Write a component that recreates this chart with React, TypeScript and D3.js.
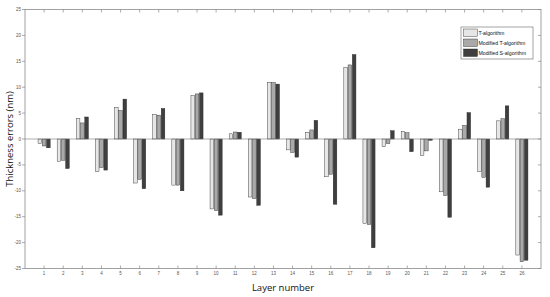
import React, { useEffect, useRef } from 'react';
import * as d3 from 'd3';

const layers = d3.range(1, 27);
const seriesNames = ['T-algorithm', 'Modified T-algorithm', 'Modified S-algorithm'];
const seriesColors = ['#e6e6e6', '#a9a9a9', '#3f3f3f'];

const tAlg = [-0.9, -4.3, 3.9, -6.3, 6.1, -8.5, 4.75, -8.9, 8.4, -13.5, 1.0, -11.2, 10.9, -2.1, 1.3, -7.3, 13.85, -16.3, -1.5, 1.5, -3.2, -10.2, 1.9, -6.3, 3.5, -22.4];
const modT = [-1.35, -4.1, 3.1, -5.5, 5.5, -7.8, 4.6, -8.9, 8.7, -13.8, 1.35, -11.5, 10.9, -2.6, 1.75, -6.8, 14.3, -16.5, -0.9, 1.2, -2.3, -10.9, 2.6, -7.4, 3.9, -23.7];
const modS = [-1.7, -5.7, 4.25, -6.0, 7.7, -9.6, 5.9, -10.0, 8.9, -14.7, 1.3, -12.8, 10.6, -3.5, 3.6, -12.6, 16.3, -21.0, 1.6, -2.45, -0.25, -15.1, 5.1, -9.3, 6.4, -23.4];
const yTicks = [-25, -20, -15, -10, -5, 0, 5, 10, 15, 20, 25];

export default function App() {
  const ref = useRef<SVGSVGElement>(null);

  useEffect(() => {
    const svg = d3.select(ref.current);
    svg.selectAll('*').remove();

    const left = 25, right = 541, top = 9.5, bottom = 268.5;
    const x = d3.scaleLinear().domain([0, 27]).range([left, right]);
    const y = d3.scaleLinear().domain([-25, 25]).range([bottom, top]);
    const axisCol = '#8a8a8a';

    svg.append('rect').attr('width', 550).attr('height', 297).attr('fill', 'white');

    // bars
    const series = [tAlg, modT, modS];
    const offsets = [-0.222, 0, 0.222];
    const bw = 0.19;
    series.forEach((vals, si) => {
      svg.append('g').selectAll('rect')
        .data(vals)
        .enter()
        .append('rect')
        .attr('x', (d, i) => x(layers[i] + offsets[si] - bw / 2))
        .attr('width', x(bw) - x(0))
        .attr('y', d => y(Math.max(0, d)))
        .attr('height', d => Math.abs(y(d) - y(0)))
        .attr('fill', seriesColors[si])
        .attr('stroke', '#222')
        .attr('stroke-width', 0.4);
    });

    // zero line
    svg.append('line').attr('x1', left).attr('x2', right).attr('y1', y(0)).attr('y2', y(0))
      .attr('stroke', '#777').attr('stroke-width', 0.6);

    // box
    svg.append('rect').attr('x', left).attr('y', top).attr('width', right - left).attr('height', bottom - top)
      .attr('fill', 'none').attr('stroke', axisCol).attr('stroke-width', 0.8);

    const g = svg.append('g');
    layers.forEach(l => {
      g.append('line').attr('x1', x(l)).attr('x2', x(l)).attr('y1', bottom).attr('y2', bottom - 3)
        .attr('stroke', axisCol).attr('stroke-width', 0.7);
      g.append('line').attr('x1', x(l)).attr('x2', x(l)).attr('y1', top).attr('y2', top + 3)
        .attr('stroke', axisCol).attr('stroke-width', 0.7);
      g.append('text').attr('x', x(l)).attr('y', bottom + 6.5).attr('text-anchor', 'middle')
        .attr('font-size', 4.5).attr('font-family', 'Liberation Sans, Arial, sans-serif').attr('fill', '#555')
        .text(l);
    });
    yTicks.forEach(t => {
      g.append('line').attr('x1', left - 3).attr('x2', left).attr('y1', y(t)).attr('y2', y(t))
        .attr('stroke', axisCol).attr('stroke-width', 0.7);
      g.append('line').attr('x1', right).attr('x2', right - 3).attr('y1', y(t)).attr('y2', y(t))
        .attr('stroke', axisCol).attr('stroke-width', 0.7);
      g.append('text').attr('x', left - 4).attr('y', y(t) + 1.5).attr('text-anchor', 'end')
        .attr('font-size', 4.5).attr('font-family', 'Liberation Sans, Arial, sans-serif').attr('fill', '#555')
        .text(t);
    });

    // axis labels
    svg.append('text').attr('x', (left + right) / 2).attr('y', 291).attr('text-anchor', 'middle')
      .attr('font-size', 9.5).attr('font-family', 'Open Sans, sans-serif').attr('fill', '#111')
      .text('Layer number');
    svg.append('text').attr('transform', `translate(13, ${(top + bottom) / 2}) rotate(-90)`)
      .attr('text-anchor', 'middle')
      .attr('font-size', 9.5).attr('font-family', 'Open Sans, sans-serif').attr('fill', '#111')
      .text('Thickness errors (nm)');

    // legend
    const lg = svg.append('g').attr('transform', 'translate(461, 27)');
    lg.append('rect').attr('width', 72).attr('height', 32).attr('fill', 'white')
      .attr('stroke', '#666').attr('stroke-width', 0.6);
    seriesNames.forEach((n, i) => {
      lg.append('rect').attr('x', 2.5).attr('y', 2 + i * 10).attr('width', 14).attr('height', 7.5)
        .attr('fill', seriesColors[i]).attr('stroke', '#222').attr('stroke-width', 0.4);
      lg.append('text').attr('x', 17.5).attr('y', 7.7 + i * 10)
        .attr('font-size', 5.2).attr('font-family', 'Liberation Sans, Arial, sans-serif').attr('fill', '#111')
        .text(n);
    });
  }, []);

  return (
    <svg ref={ref} width={550} height={297} viewBox="0 0 550 297"
      style={{ position: 'absolute', left: 0, top: 0, display: 'block' }} />
  );
}
